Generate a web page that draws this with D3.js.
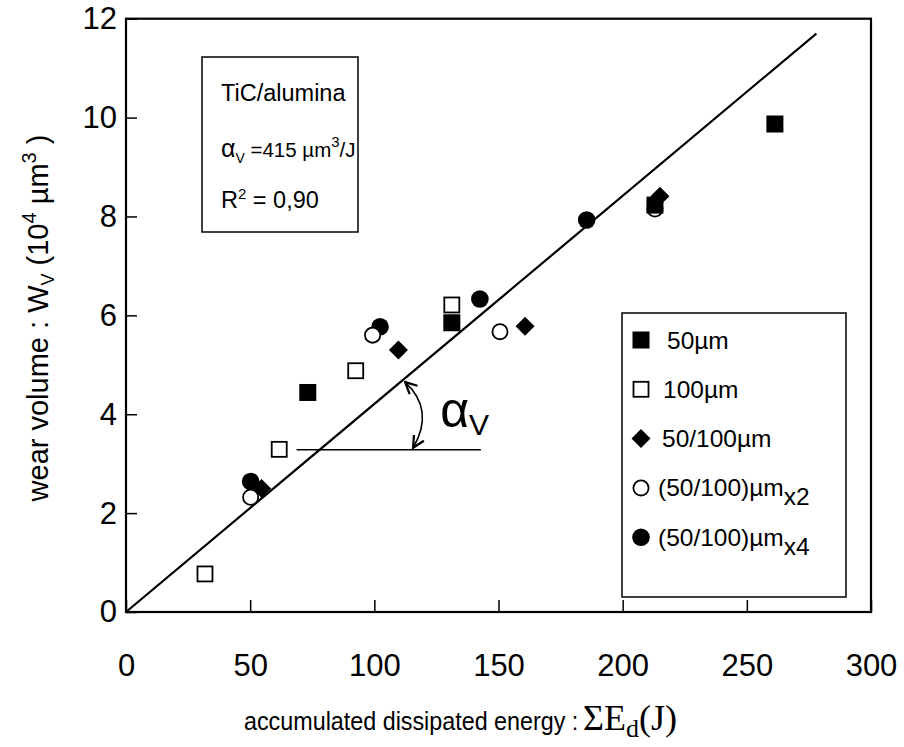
<!DOCTYPE html>
<html><head><meta charset="utf-8">
<script src="https://cdn.jsdelivr.net/npm/d3@7"></script>
<style>body{margin:0;background:#fff}svg{display:block}</style>
</head><body>
<svg id="c" width="904" height="747" font-family="Liberation Sans, Arial, sans-serif"></svg>
<script>
// ---- data ----
const xTicks = [0, 50, 100, 150, 200, 250, 300];
const yTicks = [0, 2, 4, 6, 8, 10, 12];
const seriesNames = ["50\u00b5m", "100\u00b5m", "50/100\u00b5m", "(50/100)\u00b5m", "(50/100)\u00b5m"];
const seriesSubs = ["", "", "", "x2", "x4"];
const s50x = [73.2, 131.2, 213.0, 261.3];
const s50y = [4.44, 5.85, 8.23, 9.87];
const s100x = [31.8, 61.7, 92.5, 131.2];
const s100y = [0.77, 3.29, 4.88, 6.21];
const sMixX = [54.6, 109.7, 160.7, 215.0];
const sMixY = [2.50, 5.30, 5.78, 8.41];
const sX2x = [50.2, 99.3, 150.6, 213.0];
const sX2y = [2.32, 5.60, 5.67, 8.15];
const sX4x = [50.2, 102.3, 142.5, 185.5];
const sX4y = [2.64, 5.77, 6.33, 7.93];
const fitX = [0, 278];
const fitY = [0, 11.70];
const angleRefX = [68.7, 142.9];  // horizontal reference line
const angleRefY = 3.28;
const arcStartX = 112.4;          // arc end on fit line

// ---- layout ----
const svg = d3.select("#c");
const L = 126, R = 871, T = 18.7, B = 612;
const x = d3.scaleLinear().domain([0, 300]).range([L, R]);
const y = d3.scaleLinear().domain([0, 12]).range([B, T]);

// axes
const gx = svg.append("g").attr("transform", `translate(0,${B})`)
  .call(d3.axisBottom(x).tickValues(xTicks).tickSize(-12).tickPadding(53).tickFormat(d3.format("d")));
const gy = svg.append("g").attr("transform", `translate(${L},0)`)
  .call(d3.axisLeft(y).tickValues(yTicks).tickSize(-11).tickPadding(9).tickFormat(d3.format("d")));
[gx, gy].forEach(g => {
  g.attr("font-family", null).attr("font-size", null);
  g.select(".domain").remove();
  g.selectAll(".tick line").attr("stroke", "#000").attr("stroke-width", 1.5);
  g.selectAll(".tick text").attr("font-size", 31).attr("fill", "#000");
});
gx.selectAll(".tick text").attr("dy", "0.35em");
// frame
svg.append("rect").attr("x", L).attr("y", T).attr("width", R - L).attr("height", B - T)
  .attr("fill", "none").attr("stroke", "#000").attr("stroke-width", 2.2);

// fit line
const line = d3.line().x((d, i) => x(fitX[i])).y((d, i) => y(fitY[i]));
svg.append("path").attr("d", line(fitX)).attr("stroke", "#000").attr("stroke-width", 2.2).attr("fill", "none");

// angle annotation
svg.append("line").attr("x1", x(angleRefX[0])).attr("x2", x(angleRefX[1]))
  .attr("y1", y(angleRefY)).attr("y2", y(angleRefY)).attr("stroke", "#000").attr("stroke-width", 1.5);
const slope = fitY[1] / fitX[1];
const ax0 = x(arcStartX), ay0 = y(arcStartX * slope) + 4;
const ax1 = x(arcStartX) + 8, ay1 = y(angleRefY) - 2;
svg.append("defs").append("marker").attr("id", "ah").attr("viewBox", "0 0 10 10").attr("refX", 9).attr("refY", 5)
  .attr("markerWidth", 9).attr("markerHeight", 9).attr("orient", "auto-start-reverse")
  .append("path").attr("d", "M1,1 L9,5 L1,9").attr("fill", "none").attr("stroke", "#000").attr("stroke-width", 1.6);
svg.append("path")
  .attr("d", `M${ax0},${ay0} Q${ax0 + 30},${(ay0 + ay1) / 2 - 5} ${ax1},${ay1}`)
  .attr("fill", "none").attr("stroke", "#000").attr("stroke-width", 1.6)
  .attr("marker-start", "url(#ah)").attr("marker-end", "url(#ah)");
const al = svg.append("text").attr("x", x(126.5)).attr("y", y(3.75)).attr("font-size", 50);
al.append("tspan").text("\u03b1");
al.append("tspan").attr("font-size", 30).attr("dy", 8).text("V");

// markers
function drawSeries(xs, ys, type) {
  const g = svg.append("g");
  xs.forEach((v, i) => drawMarker(g, x(v), y(ys[i]), type));
}
function drawMarker(g, cx, cy, type) {
  if (type === "fsq") g.append("rect").attr("x", cx - 8.5).attr("y", cy - 8.5).attr("width", 17).attr("height", 17).attr("fill", "#000");
  else if (type === "osq") g.append("rect").attr("x", cx - 7.5).attr("y", cy - 7.5).attr("width", 15).attr("height", 15).attr("fill", "#fff").attr("stroke", "#000").attr("stroke-width", 1.8);
  else if (type === "dia") g.append("path").attr("d", `M${cx},${cy - 9.5}L${cx + 9.5},${cy}L${cx},${cy + 9.5}L${cx - 9.5},${cy}Z`).attr("fill", "#000");
  else if (type === "oci") g.append("circle").attr("cx", cx).attr("cy", cy).attr("r", 7.6).attr("fill", "#fff").attr("stroke", "#000").attr("stroke-width", 1.8);
  else if (type === "fci") g.append("circle").attr("cx", cx).attr("cy", cy).attr("r", 8.8).attr("fill", "#000");
}
drawSeries(sX4x, sX4y, "fci");
drawSeries(sX2x, sX2y, "oci");
drawSeries(s50x, s50y, "fsq");
drawSeries(s100x, s100y, "osq");
drawSeries(sMixX, sMixY, "dia");

// info box
svg.append("rect").attr("x", 202).attr("y", 57).attr("width", 156).attr("height", 175)
  .attr("fill", "#fff").attr("stroke", "#000").attr("stroke-width", 1.5);
svg.append("text").attr("x", 221).attr("y", 101).attr("font-size", 23.5).text("TiC/alumina");
const t2 = svg.append("text").attr("x", 221).attr("y", 157).attr("font-size", 20.5);
t2.append("tspan").attr("font-size", 25).text("\u03b1");
t2.append("tspan").attr("font-size", 14).attr("dy", 6).text("V");
t2.append("tspan").attr("dy", -6).text(" =415 \u00b5m");
t2.append("tspan").attr("font-size", 15).attr("dy", -10).text("3");
t2.append("tspan").attr("dy", 10).text("/J");
const t3 = svg.append("text").attr("x", 221).attr("y", 208).attr("font-size", 23.5);
t3.append("tspan").text("R");
t3.append("tspan").attr("font-size", 15).attr("dy", -9).text("2");
t3.append("tspan").attr("dy", 9).text(" = 0,90");

// legend
svg.append("rect").attr("x", 622).attr("y", 313).attr("width", 224).attr("height", 284)
  .attr("fill", "#fff").attr("stroke", "#000").attr("stroke-width", 1.5);
const legTypes = ["fsq", "osq", "dia", "oci", "fci"];
const legX = [667, 663, 662, 658, 658];
seriesNames.forEach((n, i) => {
  const cy = 340 + i * 49.3;
  const g = svg.append("g");
  drawMarker(g, 641, cy, legTypes[i]);
  const t = svg.append("text").attr("x", legX[i]).attr("y", cy + 8.5).attr("font-size", 24.5);
  t.append("tspan").text(n);
  if (seriesSubs[i]) t.append("tspan").attr("dy", 9).text(seriesSubs[i]);
});

// axis titles
const yt = svg.append("text").attr("transform", "translate(48,318) rotate(-90)").attr("text-anchor", "middle").attr("font-size", 29);
yt.append("tspan").text("wear volume : W");
yt.append("tspan").attr("font-size", 18).attr("dy", 6).text("V");
yt.append("tspan").attr("dy", -6).text(" (10");
yt.append("tspan").attr("font-size", 20).attr("dy", -12).text("4");
yt.append("tspan").attr("dy", 12).text(" \u00b5m");
yt.append("tspan").attr("font-size", 20).attr("dy", -12).text("3");
yt.append("tspan").attr("dy", 12).text(" )");

const xt = svg.append("text").attr("transform", "translate(244,730) scale(0.88,1)").attr("font-size", 26.5);
xt.append("tspan").text("accumulated dissipated energy :");
const xt2 = svg.append("text").attr("x", 583).attr("y", 730)
  .style("font-family", "'Liberation Serif', 'Times New Roman', serif").attr("font-size", 36);
xt2.append("tspan").text("\u03a3E");
xt2.append("tspan").attr("font-size", 26).attr("dy", 7).text("d");
xt2.append("tspan").attr("dy", -7).text("(J)");
</script>
</body></html>
